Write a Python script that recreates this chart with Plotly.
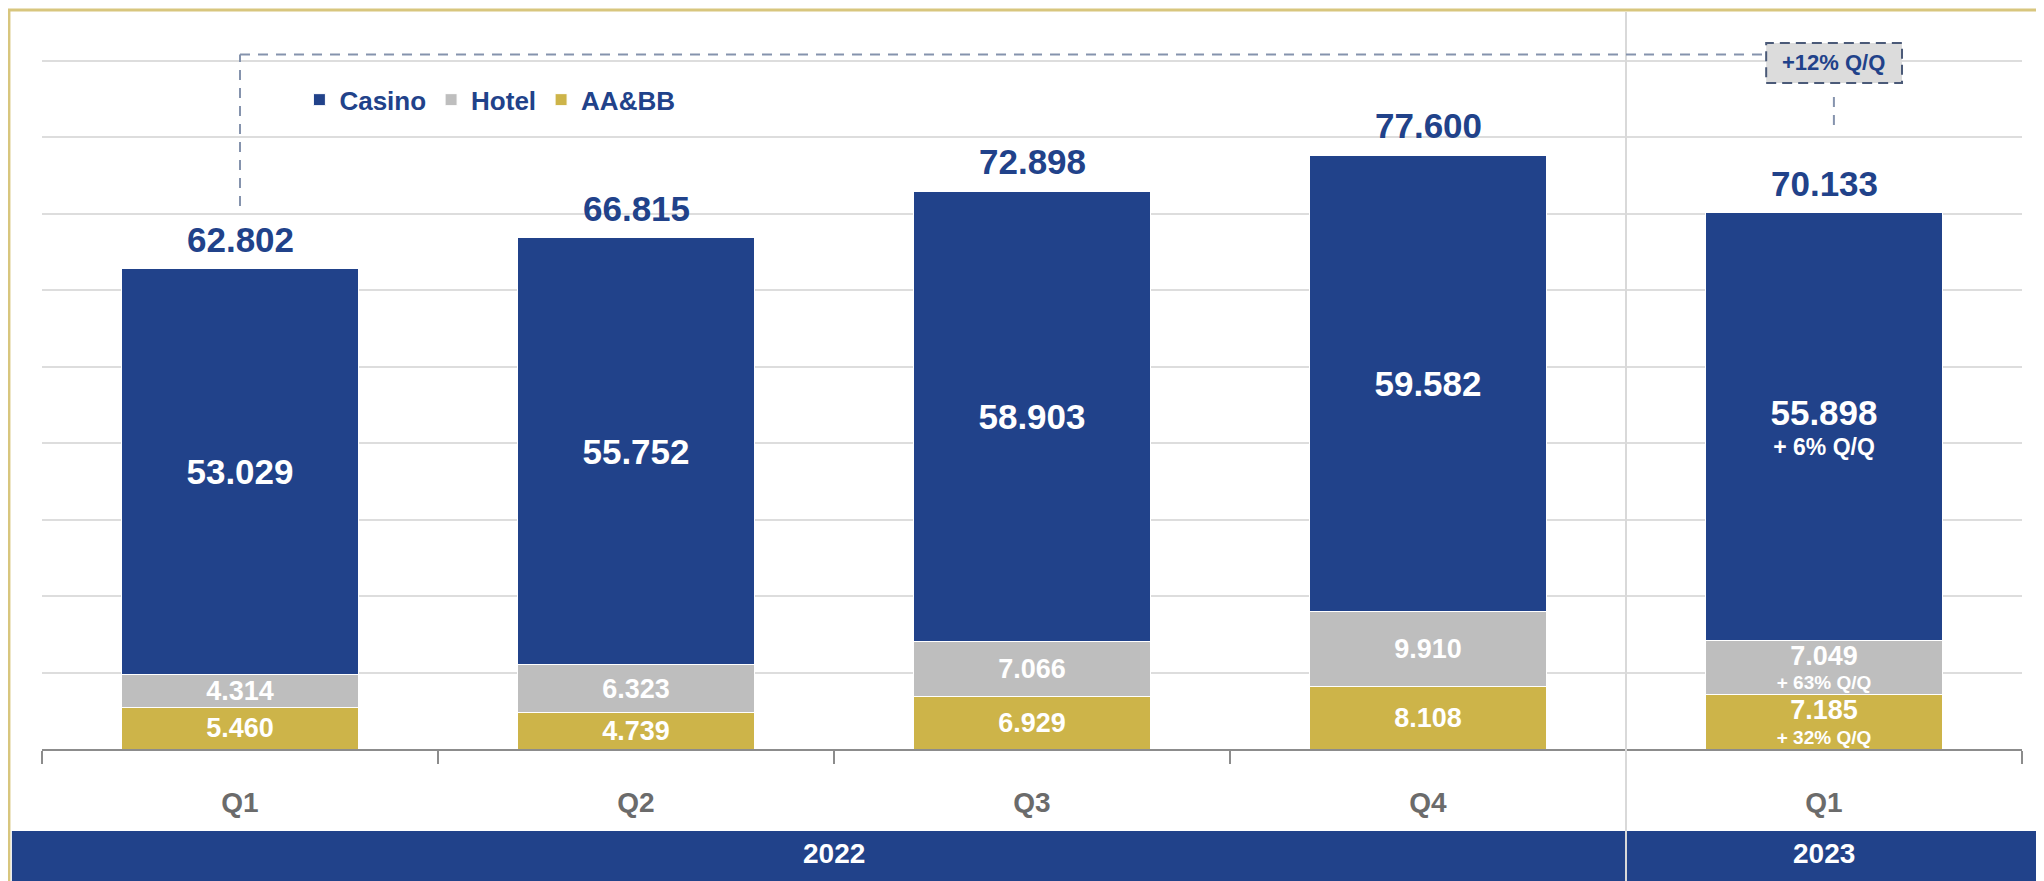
import plotly.graph_objects as go

# ---------------- data ----------------
quarters = ["Q1", "Q2", "Q3", "Q4", "Q1"]
years = ["2022", "2022", "2022", "2022", "2023"]
casino = [53.029, 55.752, 58.903, 59.582, 55.898]
hotel = [4.314, 6.323, 7.066, 9.910, 7.049]
aabb = [5.460, 4.739, 6.929, 8.108, 7.185]
totals = [62.802, 66.815, 72.898, 77.600, 70.133]
casino_notes = ["", "", "", "", "+ 6% Q/Q"]
hotel_notes = ["", "", "", "", "+ 63% Q/Q"]
aabb_notes = ["", "", "", "", "+ 32% Q/Q"]
total_growth = "+12% Q/Q"

# ---------------- styles ----------------
FONT = "Liberation Sans, Arial, Helvetica, sans-serif"
BLUE = "#21428A"
GREY = "#BEBEBE"
GOLD = "#CDB449"
BORDER = "#D8C67E"
GRID = "#DDDDDD"
AXIS = "#8C8C8C"

x = list(range(len(quarters)))
n = len(x)


def seg_text(vals, notes, big):
    out = []
    for v, note in zip(vals, notes):
        if note:
            out.append(f"<b><span style='font-size:{big}px'>{v:.3f}</span><br>{note}</b>")
        else:
            out.append(f"<b>{v:.3f}</b>")
    return out


def seg_sizes(notes, big, small):
    return [small if note else big for note in notes]


fig = go.Figure()

for name, vals, notes, color, big, small in [
    ("AA&BB", aabb, aabb_notes, GOLD, 27, 19),
    ("Hotel", hotel, hotel_notes, GREY, 27, 19),
    ("Casino", casino, casino_notes, BLUE, 35, 23),
]:
    fig.add_trace(go.Bar(
        x=x, y=vals, name=name,
        marker=dict(color=color, line=dict(color="white", width=1)),
        text=seg_text(vals, notes, big),
        textposition="inside", insidetextanchor="middle", textangle=0,
        constraintext="none",
        insidetextfont=dict(family=FONT, color="white", size=seg_sizes(notes, big, small)),
        hoverinfo="skip",
    ))


def cat_to_paper(c):
    return (c + 0.5) / n


annotations = []
for i, t in enumerate(totals):
    annotations.append(dict(
        x=x[i], y=t, xref="x", yref="y", text=f"<b>{t:.3f}</b>", showarrow=False,
        yanchor="bottom", yshift=8, font=dict(family=FONT, size=35, color=BLUE)))

# year labels in band
uniq_years = []
for yv in years:
    if yv not in uniq_years:
        uniq_years.append(yv)
for yv in uniq_years:
    idx = [i for i, v in enumerate(years) if v == yv]
    annotations.append(dict(
        x=sum(idx) / len(idx), y=-0.146, xref="x", yref="paper", text=f"<b>{yv}</b>",
        yanchor="middle", showarrow=False, font=dict(family=FONT, size=28, color="white")))

# growth box text
box_x = x[-1] + 0.025
annotations.append(dict(
    x=box_x, y=89.7, xref="x", yref="y", text=f"<b>{total_growth}</b>", showarrow=False,
    yanchor="middle", font=dict(family=FONT, size=22, color=BLUE)))

split = years.index(uniq_years[-1]) - 0.5

shapes = [
    dict(type="rect", xref="paper", yref="paper", x0=-0.0167, x1=1.03, y0=-0.25, y1=1.0278,
         line=dict(color=BORDER, width=3), fillcolor="rgba(0,0,0,0)", layer="above"),
    dict(type="rect", xref="paper", yref="paper", x0=-0.0152, x1=1.03, y0=-0.25, y1=-0.114,
         line=dict(width=0), fillcolor=BLUE, layer="above"),
    dict(type="line", xref="paper", yref="paper", x0=cat_to_paper(split), x1=cat_to_paper(split),
         y0=-0.25, y1=1.025, line=dict(color="#D9D9D9", width=2), layer="above"),
    dict(type="line", xref="x", yref="y", x0=x[0], x1=x[0], y0=totals[0] + 8.2, y1=90.8,
         line=dict(color="#8593AD", width=2, dash="10px,8px"), layer="above"),
    dict(type="line", xref="x", yref="y", x0=x[0], x1=box_x - 0.171, y0=90.8, y1=90.8,
         line=dict(color="#8593AD", width=2, dash="10px,8px"), layer="above"),
    dict(type="rect", xref="x", yref="y", x0=box_x - 0.171, x1=box_x + 0.172, y0=87.07, y1=92.3,
         line=dict(color="#4B5A78", width=2, dash="10px,6px"), fillcolor="#DCDCDC", layer="above"),
    dict(type="line", xref="x", yref="y", x0=box_x, x1=box_x, y0=85.24, y1=80.66,
         line=dict(color="#8593AD", width=2, dash="10px,8px"), layer="above"),
]

fig.update_layout(
    width=2036, height=873,
    margin=dict(l=34, r=22, t=22, b=132),
    paper_bgcolor="white", plot_bgcolor="white",
    barmode="stack", bargap=0.404,
    font=dict(family=FONT),
    showlegend=True,
    legend=dict(orientation="h", x=0.13, xanchor="left", y=0.903, yanchor="middle",
                traceorder="reversed", bgcolor="rgba(0,0,0,0)",
                font=dict(family=FONT, size=26, color=BLUE, weight="bold")),
    xaxis=dict(range=[-0.5, n - 0.5], tickvals=x, ticktext=[f"<b>{q}</b>" for q in quarters],
               ticks="", showline=True, linecolor=AXIS, linewidth=2, showgrid=False,
               zeroline=False, ticklabelstandoff=27,
               tickfont=dict(family=FONT, size=28, color="#6B6B6B"),
               minor=dict(tickvals=[i - 0.5 for i in range(n + 1)], ticks="outside",
                          ticklen=13, tickcolor=AXIS, tickwidth=2, showgrid=False)),
    yaxis=dict(range=[0, 94], tick0=0, dtick=10, showticklabels=False, showgrid=True,
               gridcolor=GRID, gridwidth=2, zeroline=False, showline=False),
    shapes=shapes,
    annotations=annotations,
)

fig.write_html("out.html")
